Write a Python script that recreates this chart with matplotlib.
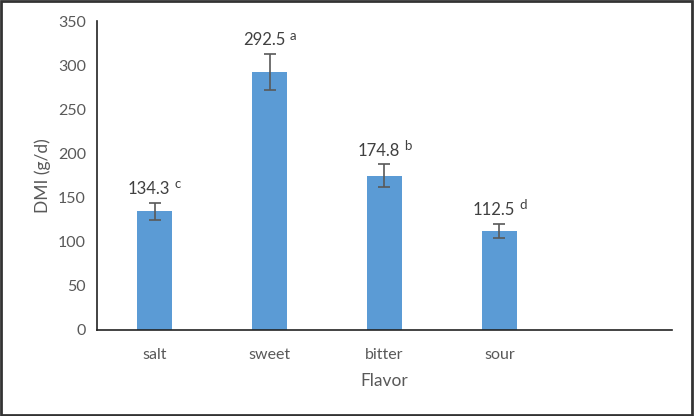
import matplotlib
matplotlib.use("Agg")
import matplotlib.pyplot as plt
import numpy as np

flavors = ["salt", "sweet", "bitter", "sour"]
dmi = [134.3, 292.5, 174.8, 112.5]
err = [10, 20.5, 13, 8]
letters = ["c", "a", "b", "d"]
yticks = [0, 50, 100, 150, 200, 250, 300, 350]

plt.rcParams['font.family'] = ['Lato', 'DejaVu Sans']
grey = "#595959"
blue = "#5B9BD5"

fig = plt.figure(figsize=(6.94, 4.16), dpi=100)
ax = fig.add_axes([0.140, 0.207, 0.828, 0.742])

x = np.arange(len(flavors))
ax.bar(x, dmi, width=0.31, color=blue, zorder=2)
ax.errorbar(x, dmi, yerr=err, fmt="none", ecolor=grey, elinewidth=1.2,
            capsize=4, capthick=1.2, zorder=3)

for xi, v, e, l in zip(x, dmi, err, letters):
    t = ax.annotate(f"{v:.1f}", xy=(xi, v + e), xytext=(-4, 4),
                    textcoords="offset points", ha="center", va="bottom",
                    fontsize=12, color="#404040")
    ax.annotate(l, xy=(1, 1), xycoords=t, xytext=(3, 2),
                textcoords="offset points", ha="left", va="top",
                fontsize=9.5, color="#404040")

ax.set_xlim(-0.5, 4.5)
ax.set_ylim(0, 350)
ax.set_xticks(x)
ax.set_xticklabels(flavors)
ax.set_yticks(yticks)
ax.tick_params(length=0, labelsize=11.5, colors=grey, pad=8)
ax.tick_params(axis="x", pad=13)
ax.set_xlabel("Flavor", fontsize=12.5, color=grey, labelpad=8)
ax.set_ylabel("DMI (g/d)", fontsize=12.5, color=grey, labelpad=5)

for s in ["top", "right"]:
    ax.spines[s].set_visible(False)
for s in ["left", "bottom"]:
    ax.spines[s].set_color("#222222")
    ax.spines[s].set_linewidth(1.2)

border = plt.Rectangle((0.002, 0.003), 0.995, 0.994, transform=fig.transFigure,
                       fill=False, edgecolor="#333333", linewidth=2)
fig.patches.append(border)

fig.savefig("out.png", dpi=100)
